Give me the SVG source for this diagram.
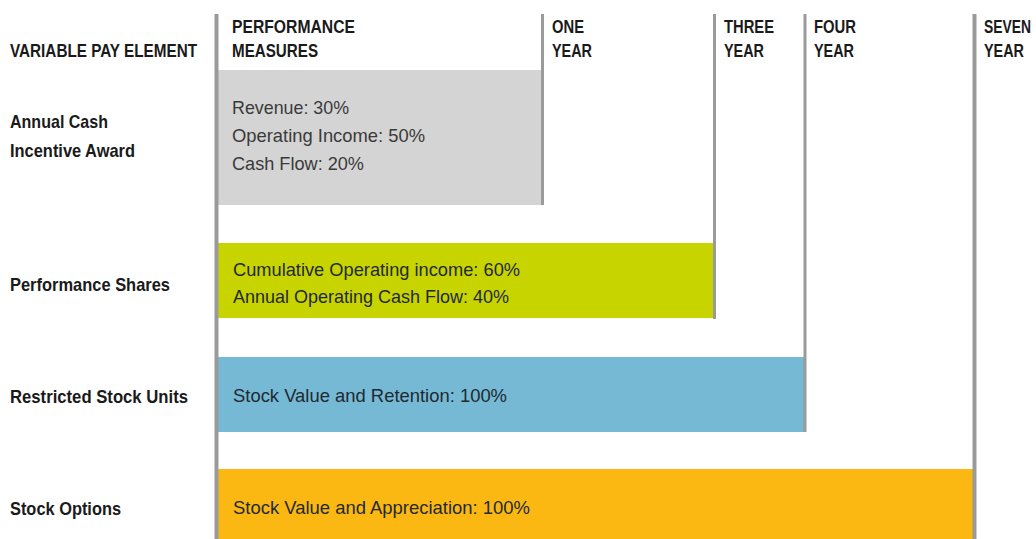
<svg xmlns="http://www.w3.org/2000/svg" width="1036" height="539" viewBox="0 0 1036 539">
<style>
.hd{font-family:"Liberation Sans",Arial,sans-serif;font-weight:bold;font-size:19px;fill:#1a1a1a}
.lb{font-family:"Liberation Sans",Arial,sans-serif;font-weight:bold;font-size:19px;fill:#1a1a1a}
.tx{font-family:"Liberation Sans",Arial,sans-serif;font-size:19px;fill:#3a3a3a}
.tb{font-family:"Liberation Sans",Arial,sans-serif;font-size:19px;fill:#1f2a30}
.ln{stroke:#9a9a9a;stroke-width:3;fill:none}
</style>
<rect width="1036" height="539" fill="#ffffff"/>
<g id="bars">
<g id="annual-cash"><rect x="218" y="70" width="324" height="135" fill="#d4d4d4"/>
<text class="tx" x="232" y="114" textLength="117" lengthAdjust="spacingAndGlyphs">Revenue: 30%</text>
<text class="tx" x="232" y="142" textLength="193" lengthAdjust="spacingAndGlyphs">Operating Income: 50%</text>
<text class="tx" x="232" y="170" textLength="132" lengthAdjust="spacingAndGlyphs">Cash Flow: 20%</text></g>
<g id="performance-shares"><rect x="218" y="243" width="496" height="75" fill="#c8d400"/>
<text class="tb" x="233" y="276" textLength="287" lengthAdjust="spacingAndGlyphs">Cumulative Operating income: 60%</text>
<text class="tb" x="233" y="303" textLength="276" lengthAdjust="spacingAndGlyphs">Annual Operating Cash Flow: 40%</text></g>
<g id="restricted-stock"><rect x="218" y="357" width="587" height="75" fill="#76b9d4"/>
<text class="tb" x="233" y="402" textLength="274" lengthAdjust="spacingAndGlyphs">Stock Value and Retention: 100%</text></g>
<g id="stock-options"><rect x="218" y="469" width="756" height="70" fill="#fbb812"/>
<text class="tb" x="233" y="514" textLength="297" lengthAdjust="spacingAndGlyphs">Stock Value and Appreciation: 100%</text></g>
</g>
<g id="connectors">
<line class="ln" x1="216.5" y1="14" x2="216.5" y2="539" style="stroke-width:4"/>
<line class="ln" x1="542.5" y1="14" x2="542.5" y2="205"/>
<line class="ln" x1="714.5" y1="14" x2="714.5" y2="319"/>
<line class="ln" x1="805" y1="14" x2="805" y2="432"/>
<line class="ln" x1="974.5" y1="14" x2="974.5" y2="539" style="stroke-width:4"/>
</g>
<g id="header">
<text class="hd" x="10" y="57" textLength="187" lengthAdjust="spacingAndGlyphs">VARIABLE PAY ELEMENT</text>
<text class="hd" x="232" y="33" textLength="123" lengthAdjust="spacingAndGlyphs">PERFORMANCE</text>
<text class="hd" x="232" y="57" textLength="86" lengthAdjust="spacingAndGlyphs">MEASURES</text>
<text class="hd" x="552" y="33" textLength="32" lengthAdjust="spacingAndGlyphs">ONE</text>
<text class="hd" x="552" y="57" textLength="40" lengthAdjust="spacingAndGlyphs">YEAR</text>
<text class="hd" x="724" y="33" textLength="50" lengthAdjust="spacingAndGlyphs">THREE</text>
<text class="hd" x="724" y="57" textLength="40" lengthAdjust="spacingAndGlyphs">YEAR</text>
<text class="hd" x="814" y="33" textLength="42" lengthAdjust="spacingAndGlyphs">FOUR</text>
<text class="hd" x="814" y="57" textLength="40" lengthAdjust="spacingAndGlyphs">YEAR</text>
<text class="hd" x="984" y="33" textLength="47" lengthAdjust="spacingAndGlyphs">SEVEN</text>
<text class="hd" x="984" y="57" textLength="40" lengthAdjust="spacingAndGlyphs">YEAR</text>
</g>
<g id="labels">
<text class="lb" x="10" y="128" textLength="98" lengthAdjust="spacingAndGlyphs">Annual Cash</text>
<text class="lb" x="10" y="157" textLength="125" lengthAdjust="spacingAndGlyphs">Incentive Award</text>
<text class="lb" x="10" y="291" textLength="160" lengthAdjust="spacingAndGlyphs">Performance Shares</text>
<text class="lb" x="10" y="403" textLength="178" lengthAdjust="spacingAndGlyphs">Restricted Stock Units</text>
<text class="lb" x="10" y="515" textLength="111" lengthAdjust="spacingAndGlyphs">Stock Options</text>
</g>
</svg>
